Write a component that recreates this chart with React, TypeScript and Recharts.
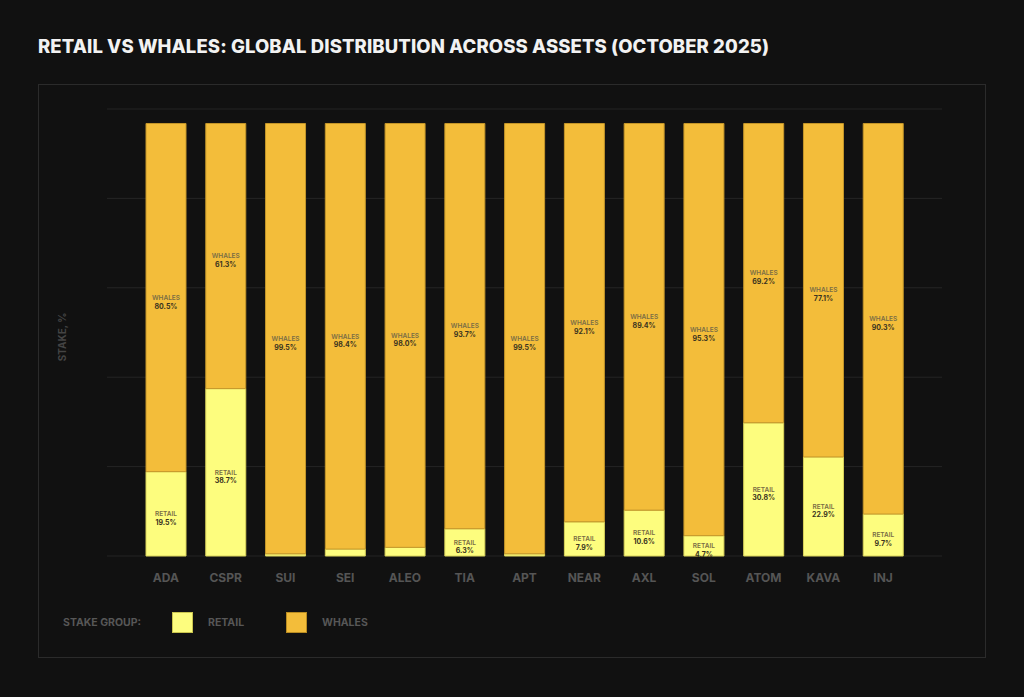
import { Bar, BarChart, CartesianGrid, LabelList, XAxis, YAxis } from 'recharts';

const assets = ['ADA', 'CSPR', 'SUI', 'SEI', 'ALEO', 'TIA', 'APT', 'NEAR', 'AXL', 'SOL', 'ATOM', 'KAVA', 'INJ'];
const retail = [19.5, 38.7, 0.5, 1.6, 2.0, 6.3, 0.5, 7.9, 10.6, 4.7, 30.8, 22.9, 9.7];
const whales = [80.5, 61.3, 99.5, 98.4, 98.0, 93.7, 99.5, 92.1, 89.4, 95.3, 69.2, 77.1, 90.3];
const gridTicks = [0, 20.67, 41.34, 62.01, 82.68, 103.35];

const RETAIL = '#fdfd7e';
const WHALES = '#f3bd3a';
const FONT = 'Inter, "DejaVu Sans", sans-serif';

const rows = assets.map((asset, i) => ({ asset, retail: retail[i], whales: whales[i] }));

/** Two-line label in the middle of a segment; tiny slices get nothing. */
function segmentLabel(name: string) {
    return (props: any) => {
        const { x, y, width, height, value } = props;
        if (value < 3) return null;
        const cx = Number(x) + Number(width) / 2;
        const cy = Number(y) + Number(height) / 2;
        return (
            <g>
                <text x={cx} y={cy} dy="0.35em" textAnchor="middle" fontSize={6.5} fontWeight={600} fill="#7a6d45" fontFamily={FONT}>
                    {name}
                </text>
                <text x={cx} y={cy + 8.5} dy="0.35em" textAnchor="middle" fontSize={7} fontWeight={700} fill="#3a3320" fontFamily={FONT}>
                    {value.toFixed(1)}%
                </text>
            </g>
        );
    };
}

function Swatch({ left, color, border, label }: { left: number; color: string; border: string; label: string }) {
    return (
        <>
            <div style={{ position: 'absolute', left, top: 612, width: 19, height: 19, background: color, border: `1px solid ${border}` }} />
            <div style={{ position: 'absolute', left: left + 36, top: 616, fontSize: 10.5, fontWeight: 700, color: '#575757', fontFamily: FONT }}>
                {label}
            </div>
        </>
    );
}

export default function App() {
    return (
        <div style={{ position: 'fixed', left: 0, top: 0, width: 1024, height: 697, background: '#111111', overflow: 'hidden' }}>
            <div
                style={{
                    position: 'absolute',
                    left: 38,
                    top: 35,
                    fontSize: 18.5,
                    fontWeight: 800,
                    color: '#f2f2f2',
                    fontFamily: FONT,
                    letterSpacing: 0.1,
                    whiteSpace: 'nowrap',
                }}
            >
                RETAIL VS WHALES: GLOBAL DISTRIBUTION ACROSS ASSETS (OCTOBER 2025)
            </div>
            <div style={{ position: 'absolute', left: 38, top: 84, width: 946, height: 572, border: '1px solid #2b2b2b' }} />
            <div
                style={{
                    position: 'absolute',
                    left: 62,
                    top: 337,
                    transform: 'translate(-50%, -50%) rotate(-90deg)',
                    fontSize: 10,
                    fontWeight: 700,
                    color: '#444444',
                    fontFamily: FONT,
                    whiteSpace: 'nowrap',
                }}
            >
                STAKE, %
            </div>
            <div style={{ position: 'absolute', left: 0, top: 0 }}>
                <BarChart
                    width={1024}
                    height={697}
                    data={rows}
                    margin={{ top: 109, right: 82, bottom: 111, left: 107 }}
                    barSize={40}
                >
                    <CartesianGrid vertical={false} stroke="#252525" />
                    <XAxis
                        dataKey="asset"
                        axisLine={false}
                        tickLine={false}
                        tickMargin={11}
                        padding={{ left: 29, right: 29 }}
                        tick={{ fill: '#555555', fontSize: 12, fontWeight: 700, fontFamily: FONT }}
                        interval={0}
                    />
                    <YAxis hide domain={[0, 103.35]} ticks={gridTicks} />
                    <Bar dataKey="retail" stackId="s" fill={RETAIL} stroke="#d9d35a" strokeWidth={1} isAnimationActive={false}>
                        <LabelList dataKey="retail" content={segmentLabel('RETAIL')} />
                    </Bar>
                    <Bar dataKey="whales" stackId="s" fill={WHALES} stroke="#c4962a" strokeWidth={1} isAnimationActive={false}>
                        <LabelList dataKey="whales" content={segmentLabel('WHALES')} />
                    </Bar>
                </BarChart>
            </div>
            <div style={{ position: 'absolute', left: 63, top: 616, fontSize: 10.5, fontWeight: 700, color: '#575757', fontFamily: FONT }}>
                STAKE GROUP:
            </div>
            <Swatch left={172} color={RETAIL} border="#c9c44e" label="RETAIL" />
            <Swatch left={286} color={WHALES} border="#b98c22" label="WHALES" />
        </div>
    );
}
